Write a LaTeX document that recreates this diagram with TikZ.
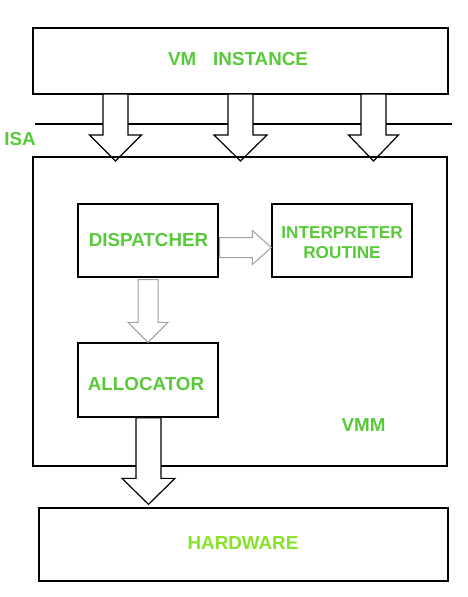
\documentclass[tikz,border=0pt]{standalone}
\usepackage{fontspec}
\setmainfont{Liberation Sans}
\usetikzlibrary{calc}
\definecolor{txtgreen}{RGB}{88,202,58}
\definecolor{hwgreen}{RGB}{135,226,40}
\definecolor{arrgray}{RGB}{160,160,160}
\newcommand\blkdown[5]{% from, to, shaft hw, head hw, head length
  \path let \p1=(#1), \p2=(#2) in
    (\x1-#3pt,\y1) -- (\x1+#3pt,\y1) -- (\x1+#3pt,\y2+#5pt) -- (\x1+#4pt,\y2+#5pt)
    -- (\x1,\y2) -- (\x1-#4pt,\y2+#5pt) -- (\x1-#3pt,\y2+#5pt) -- cycle;}
\newcommand\blkright[5]{% from, to, shaft hh, head hh, head length
  \path let \p1=(#1), \p2=(#2) in
    (\x1,\y1+#3pt) -- (\x2-#5pt,\y1+#3pt) -- (\x2-#5pt,\y1+#4pt) -- (\x2,\y1)
    -- (\x2-#5pt,\y1-#4pt) -- (\x2-#5pt,\y1-#3pt) -- (\x1,\y1-#3pt) -- cycle;}
\begin{document}
\begin{tikzpicture}[x=1pt,y=-1pt,
  box/.style={draw=black,line width=1.3pt,inner sep=0pt},
  lbl/.style={text=txtgreen,font=\fontsize{18.8}{21}\selectfont\bfseries,inner sep=0pt,align=center},
  blackarrow/.style={draw=black,fill=white,line width=1.2pt,line join=miter},
  grayarrow/.style={draw=arrgray,fill=white,line width=1pt,line join=miter}]
\useasboundingbox (0,0) rectangle (467,597);
\fill[white] (0,0) rectangle (467,597);

% ISA line
\coordinate (isaL) at (35,124);
\coordinate (isaR) at (452,124);
\draw[line width=1.2pt] (isaL) -- (isaR);
\node[lbl,anchor=center] (isa) at (20,139) {ISA};

% VM instance
\node[box,minimum width=415pt,minimum height=66pt] (vm) at (240.5,61) {};
\node[lbl] (vmtxt) at (238,59) {VM\hspace{17pt}INSTANCE};

% top arrows
\coordinate (t1s) at (115.5,94); \coordinate (t1e) at (115.5,161);
\coordinate (t2s) at (240.5,94); \coordinate (t2e) at (240.5,161);
\coordinate (t3s) at (373.5,94); \coordinate (t3e) at (373.5,161);
\begin{scope}[every path/.style={blackarrow}]
\blkdown{t1s}{t1e}{12.5}{26}{26}
\blkdown{t2s}{t2e}{12.5}{26.5}{26}
\blkdown{t3s}{t3e}{12.5}{25}{26}
\end{scope}

% VMM box
\node[box,minimum width=414pt,minimum height=309pt] (vmm) at (240,311.5) {};
\node[lbl] (vmmtxt) at (363.5,425) {VMM};

% inner boxes
\node[box,minimum width=140pt,minimum height=73pt] (disp) at (148,240.5) {};
\node[lbl] (disptxt) at (148.5,240) {DISPATCHER};
\node[box,minimum width=140pt,minimum height=73pt] (interp) at (342,240.5) {};
\node[lbl,font=\fontsize{17.2}{20}\selectfont\bfseries] (interptxt) at (342,243) {INTERPRETER\\ROUTINE};
\node[box,minimum width=140pt,minimum height=74pt] (alloc) at (148,380) {};
\node[lbl] (alloctxt) at (146,384) {ALLOCATOR};

% gray arrows
\coordinate (r1s) at ($(disp.east)+(1,7)$);
\coordinate (r1e) at ($(interp.west)+(0,7)$);
\coordinate (d1s) at ($(disp.south)+(0,2)$);
\coordinate (d1e) at (alloc.north);
\begin{scope}[every path/.style={grayarrow}]
\blkright{r1s}{r1e}{10}{17}{19}
\blkdown{d1s}{d1e}{10}{20}{20}
\end{scope}

% hardware
\node[box,minimum width=409pt,minimum height=73pt] (hw) at (243.5,544.5) {};
\node[lbl,text=hwgreen] (hwtxt) at (243,543) {HARDWARE};

% bottom arrow
\coordinate (b1s) at ($(alloc.south)+(0.5,0)$);
\coordinate (b1e) at ($(hw.north -| b1s)+(0,-3)$);
\begin{scope}[every path/.style={blackarrow}]
\blkdown{b1s}{b1e}{12.5}{26.5}{26}
\end{scope}
\end{tikzpicture}
\end{document}
